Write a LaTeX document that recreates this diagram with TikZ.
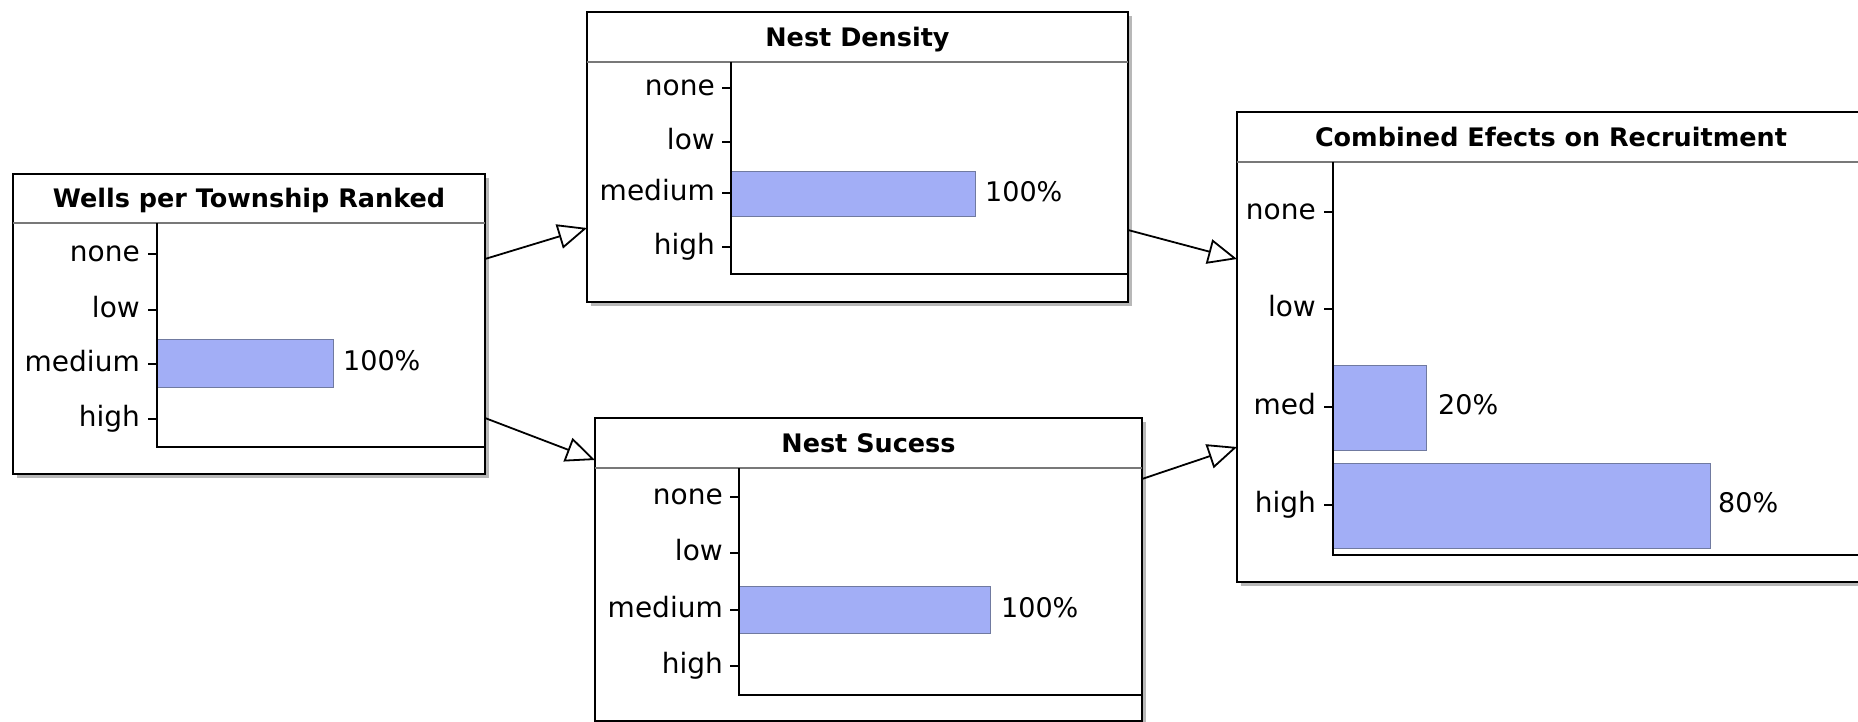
\documentclass[tikz,border=0pt]{standalone}
\usepackage{fontspec}
\setmainfont{DejaVu Sans}
\usetikzlibrary{arrows.meta,calc}
\definecolor{barfill}{RGB}{162,174,246}
\definecolor{barline}{RGB}{112,122,160}
\definecolor{sepgray}{RGB}{120,120,120}
\begin{document}
\begin{tikzpicture}[x=1pt,y=-1pt,
  netbox/.style={draw, line width=1.6pt, fill=white, inner sep=0pt, outer sep=0pt},
  shadowbox/.style={fill=black!28},
  titletext/.style={font=\fontsize{25.5}{30}\selectfont\bfseries, text height=18.6pt, text depth=0pt, inner sep=0pt},
  statelbl/.style={font=\fontsize{28}{32}\selectfont, anchor=east, text height=21pt, text depth=5.6pt, inner sep=0pt},
  pct/.style={font=\fontsize{27}{32}\selectfont, anchor=west, text height=19.7pt, text depth=0pt, inner sep=0pt},
  sepline/.style={draw=sepgray, line width=1.2pt},
  axisline/.style={line width=1.6pt},
  tickmark/.style={line width=1.5pt},
  barrect/.style={fill=barfill, draw=barline, line width=1pt},
  link/.style={line width=1.8pt, -{Triangle[open, length=29pt, width=25pt, line width=1.8pt]}}
]
\path[use as bounding box] (0,0) rectangle (1858,722);
\clip (0,0) rectangle (1858,722);

% shadows
\fill[shadowbox] (17,178) rectangle (489,478);
\fill[shadowbox] (591,16) rectangle (1132,306);
\fill[shadowbox] (599,422) rectangle (1146,725);
\fill[shadowbox] (1241,116) rectangle (1869,586);

% ---------- Wells per Township Ranked ----------
\node[netbox, minimum width=472pt, minimum height=300pt] (wells) at (249,324) {};
\node[titletext] (wellsT) at (249,198.5) {Wells per Township Ranked};
\draw[sepline] (13,223) -- (485,223);
\draw[barrect] (157,339) rectangle (333,387);
\draw[axisline] (157,223) -- (157,447) -- (485,447);
\foreach \yy/\lab in {254/none,310/low,364/medium,419/high}{
  \draw[tickmark] (148,\yy) -- (157,\yy);
  \node[statelbl] at (140,\yy) {\lab};
}
\node[pct] (wellsP) at (343,361) {100\%};

% ---------- Nest Density ----------
\node[netbox, minimum width=541pt, minimum height=290pt] (nd) at (857.5,157) {};
\node[titletext] (ndT) at (857.5,37) {Nest Density};
\draw[sepline] (587,62) -- (1128,62);
\draw[barrect] (731,172) rectangle (975,217);
\draw[axisline] (731,62) -- (731,274) -- (1128,274);
\foreach \yy/\lab in {88/none,142/low,193/medium,247/high}{
  \draw[tickmark] (722,\yy) -- (731,\yy);
  \node[statelbl] at (715,\yy) {\lab};
}
\node[pct] (ndP) at (985,192) {100\%};

% ---------- Nest Sucess ----------
\node[netbox, minimum width=547pt, minimum height=303pt] (ns) at (868.5,569.5) {};
\node[titletext] (nsT) at (868.5,443) {Nest Sucess};
\draw[sepline] (595,468) -- (1142,468);
\draw[barrect] (739,586) rectangle (990,633);
\draw[axisline] (739,468) -- (739,695) -- (1142,695);
\foreach \yy/\lab in {497/none,553/low,610/medium,666/high}{
  \draw[tickmark] (730,\yy) -- (739,\yy);
  \node[statelbl] at (723,\yy) {\lab};
}
\node[pct] (nsP) at (1001,608) {100\%};

% ---------- Combined Efects on Recruitment ----------
\node[netbox, minimum width=628pt, minimum height=470pt] (comb) at (1551,347) {};
\node[titletext] (combT) at (1551,137) {Combined Efects on Recruitment};
\draw[sepline] (1237,162) -- (1865,162);
\draw[barrect] (1333,365) rectangle (1426,450);
\draw[barrect] (1333,463) rectangle (1710,548);
\draw[axisline] (1333,162) -- (1333,555) -- (1865,555);
\foreach \yy/\lab in {212/none,309/low,407/med,505/high}{
  \draw[tickmark] (1324,\yy) -- (1333,\yy);
  \node[statelbl] at (1316,\yy) {\lab};
}
\node[pct] (combP1) at (1438,405) {20\%};
\node[pct] (combP2) at (1718,503) {80\%};

% ---------- connectors ----------
\draw[link] ([yshift=65pt]wells.east) -- ([yshift=-71pt]nd.west);
\draw[link] ([yshift=-94pt]wells.east) -- ([yshift=109.5pt]ns.west);
\draw[link] ([yshift=-73pt]nd.east) -- ([yshift=88pt]comb.west);
\draw[link] ([yshift=90.5pt]ns.east) -- ([yshift=-100pt]comb.west);
\end{tikzpicture}
\end{document}
